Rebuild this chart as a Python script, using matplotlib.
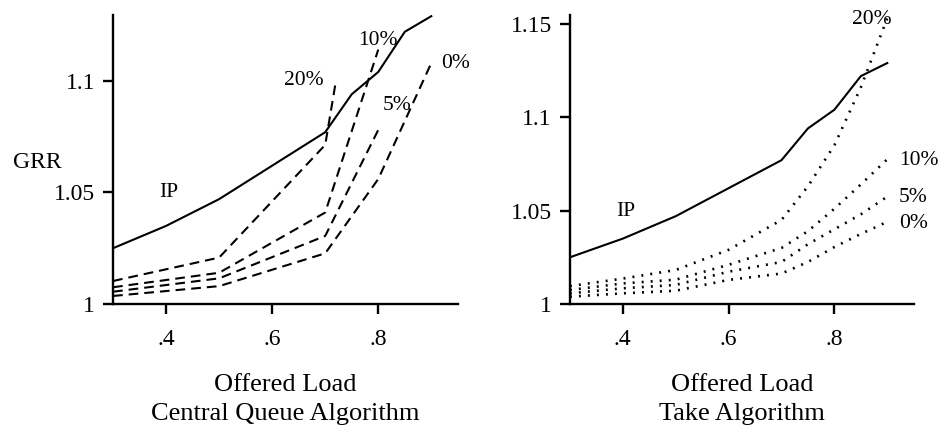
import matplotlib
matplotlib.use("Agg")
import matplotlib.pyplot as plt

plt.rcParams['font.family'] = ['Liberation Serif', 'DejaVu Serif']
plt.rcParams['lines.scale_dashes'] = False

# ---- data ----
ip_x = [0.3, 0.4, 0.5, 0.6, 0.7, 0.75, 0.8, 0.85, 0.9]
ip_y = [1.025, 1.035, 1.047, 1.062, 1.077, 1.094, 1.104, 1.122, 1.129]

# Central Queue Algorithm (dashed)
cq_20_x = [0.3, 0.5, 0.7, 0.72]
cq_20_y = [1.0103, 1.0208, 1.0713, 1.0997]
cq_10_x = [0.3, 0.5, 0.7, 0.8]
cq_10_y = [1.0075, 1.014, 1.041, 1.114]
cq_5_x = [0.3, 0.5, 0.7, 0.8]
cq_5_y = [1.0055, 1.0115, 1.0305, 1.078]
cq_0_x = [0.3, 0.5, 0.7, 0.8, 0.9]
cq_0_y = [1.0036, 1.008, 1.0227, 1.056, 1.108]

# Take Algorithm (dotted)
tk_x = [0.3, 0.4, 0.5, 0.6, 0.7, 0.75, 0.8, 0.85, 0.9]
tk_20 = [1.0096, 1.0136, 1.0182, 1.029, 1.045, 1.063, 1.085, 1.116, 1.153]
tk_10 = [1.0075, 1.011, 1.013, 1.021, 1.030, 1.039, 1.051, 1.064, 1.0775]
tk_5 = [1.0057, 1.0084, 1.0102, 1.0173, 1.0225, 1.032, 1.040, 1.048, 1.0575]
tk_0 = [1.0039, 1.0057, 1.0071, 1.0129, 1.0163, 1.0225, 1.0305, 1.0375, 1.044]

x_ticks = [0.4, 0.6, 0.8]
x_tick_labels = ['.4', '.6', '.8']
left_y_ticks = [1.0, 1.05, 1.1]
left_y_labels = ['1', '1.05', '1.1']
right_y_ticks = [1.0, 1.05, 1.1, 1.15]
right_y_labels = ['1', '1.05', '1.1', '1.15']

fig = plt.figure(figsize=(9.42, 4.29), dpi=100)
axL = fig.add_axes([0.12, 0.2914, 0.366, 0.674])
axR = fig.add_axes([0.605, 0.2914, 0.365, 0.674])

LW = 1.5
dash = (0, (7.0, 4.3))
dot = (0, (1.4, 5.1))
FS = 17
XFS = 19
AFS = 15.5

def style(ax):
    for s in ['top', 'right']:
        ax.spines[s].set_visible(False)
    for s in ['left', 'bottom']:
        ax.spines[s].set_linewidth(1.7)
    ax.tick_params(axis='both', direction='out', length=7, width=1.7,
                   labelsize=FS, pad=6)
    ax.set_xticks(x_ticks)
    ax.set_xticklabels(x_tick_labels)
    ax.tick_params(axis='x', pad=11)

# Left panel
axL.plot(ip_x, ip_y, color='black', lw=LW)
axL.plot(cq_20_x, cq_20_y, color='black', lw=LW, linestyle=dash)
axL.plot(cq_10_x, cq_10_y, color='black', lw=LW, linestyle=dash)
axL.plot(cq_5_x, cq_5_y, color='black', lw=LW, linestyle=dash)
axL.plot(cq_0_x, cq_0_y, color='black', lw=LW, linestyle=dash)
axL.set_xlim(0.3, 0.95)
axL.set_ylim(1.0, 1.1296)
style(axL)
axL.set_yticks(left_y_ticks)
axL.set_yticklabels(left_y_labels)
axL.set_xlabel('Offered Load\nCentral Queue Algorithm', fontsize=XFS,
               labelpad=17, linespacing=1.42)
axL.text(-0.22, 0.49, 'GRR', transform=axL.transAxes, fontsize=FS,
         ha='center', va='center')
axL.text(0.405, 1.05, 'IP', fontsize=AFS, ha='center', va='center')
axL.text(0.66, 1.10, '20%', fontsize=AFS, ha='center', va='center')
axL.text(0.80, 1.118, '10%', fontsize=AFS, ha='center', va='center')
axL.text(0.835, 1.089, '5%', fontsize=AFS, ha='center', va='center')
axL.text(0.945, 1.108, '0%', fontsize=AFS, ha='center', va='center')

# Right panel
axR.plot(ip_x, ip_y, color='black', lw=LW)
axR.plot(tk_x, tk_20, color='black', lw=LW + 0.4, linestyle=dot)
axR.plot(tk_x, tk_10, color='black', lw=LW + 0.4, linestyle=dot)
axR.plot(tk_x, tk_5, color='black', lw=LW + 0.4, linestyle=dot)
axR.plot(tk_x, tk_0, color='black', lw=LW + 0.4, linestyle=dot)
axR.set_xlim(0.3, 0.95)
axR.set_ylim(1.0, 1.1548)
style(axR)
axR.set_yticks(right_y_ticks)
axR.set_yticklabels(right_y_labels)
axR.set_xlabel('Offered Load\nTake Algorithm', fontsize=XFS,
               labelpad=17, linespacing=1.42)
axR.text(0.405, 1.0495, 'IP', fontsize=AFS, ha='center', va='center')
axR.text(0.87, 1.1525, '20%', fontsize=AFS, ha='center', va='center')
axR.text(0.922, 1.077, '10%', fontsize=AFS, ha='left', va='center')
axR.text(0.922, 1.057, '5%', fontsize=AFS, ha='left', va='center')
axR.text(0.922, 1.043, '0%', fontsize=AFS, ha='left', va='center')

fig.savefig('out.png', dpi=100)
